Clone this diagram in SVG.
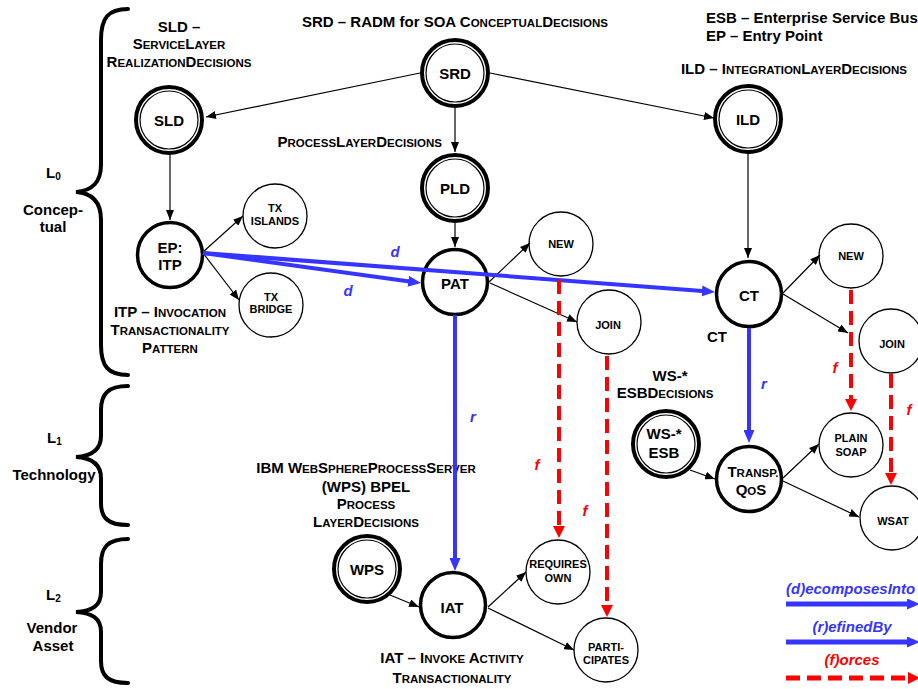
<svg xmlns="http://www.w3.org/2000/svg" width="918" height="689" viewBox="0 0 918 689">
<style>
text{font-family:"Liberation Sans",Arial,sans-serif;font-weight:bold;fill:#000}
.t{font-size:15px;text-anchor:middle}
.ts{font-size:15px;text-anchor:start}
.te{font-size:15px;text-anchor:end}
.sc{font-size:11.5px}
.n{font-size:11px;text-anchor:middle}
.big{font-size:15px;text-anchor:middle}
.dbl{fill:#fff;stroke:#000;stroke-width:4}
.inn{fill:none;stroke:#000;stroke-width:1.2}
.thk{fill:#fff;stroke:#000;stroke-width:3.5}
.thn{fill:#fff;stroke:#000;stroke-width:1.3}
.brace{fill:none;stroke:#000;stroke-width:4;stroke-linecap:round}
.e{fill:none;stroke:#000;stroke-width:1.2;marker-end:url(#ah)}
.b{fill:none;stroke:#3535ff;stroke-width:4;marker-end:url(#ab)}
.r{fill:none;stroke:#ff0000;stroke-width:4;stroke-dasharray:14 7;marker-end:url(#ar)}
.bl{fill:#3535ff;font-style:italic;font-size:15px;text-anchor:middle}
.rl{fill:#ff0000;font-style:italic;font-size:15px;text-anchor:middle}
</style>
<defs>
<marker id="ah" markerUnits="userSpaceOnUse" markerWidth="10" markerHeight="8" refX="10" refY="4" orient="auto"><path d="M0,0 L10,4 L0,8 z" fill="#000"/></marker>
<marker id="ab" markerUnits="userSpaceOnUse" markerWidth="13" markerHeight="11" refX="7" refY="5.5" orient="auto"><path d="M0,0 L13,5.5 L0,11 z" fill="#3535ff"/></marker>
<marker id="ar" markerUnits="userSpaceOnUse" markerWidth="12" markerHeight="12" refX="6" refY="6" orient="auto"><path d="M0,0 L12,6 L0,12 z" fill="#ff0000"/></marker>
</defs>
<rect width="918" height="689" fill="#fff"/>

<g id="braces">
<path class="brace" d="M128,9 C108,9 101,18 101,40 L101,165 C101,182 92,191 76,192 C92,193 101,202 101,220 L101,345 C101,366 108,375 128,375"/>
<path class="brace" d="M128,386 C108,386 101,394 101,410 L101,436 C101,450 92,456 76,457 C92,458 101,464 101,478 L101,503 C101,518 108,525 128,525"/>
<path class="brace" d="M128,539 C108,539 101,547 101,564 L101,592 C101,606 92,611 76,612 C92,613 101,618 101,632 L101,661 C101,676 108,683 128,683"/>
</g>

<g id="layer-labels">
<text class="ts" x="46" y="178">L<tspan font-size="10" dy="2">0</tspan></text>
<text class="t" x="53" y="215">Concep-</text>
<text class="t" x="53" y="232">tual</text>
<text class="ts" x="47" y="443">L<tspan font-size="10" dy="2">1</tspan></text>
<text class="t" x="54" y="480">Technology</text>
<text class="ts" x="46" y="600">L<tspan font-size="10" dy="2">2</tspan></text>
<text class="t" x="52" y="633">Vendor</text>
<text class="t" x="53" y="651">Asset</text>
</g>

<g id="annotations">
<text class="t" x="179" y="32">SLD –</text>
<text class="t" x="179" y="49">S<tspan class="sc">ERVICE</tspan>L<tspan class="sc">AYER</tspan></text>
<text class="t" x="179" y="67">R<tspan class="sc">EALIZATION</tspan>D<tspan class="sc">ECISIONS</tspan></text>
<text class="t" x="455" y="27">SRD – RADM for SOA C<tspan class="sc">ONCEPTUAL</tspan>D<tspan class="sc">ECISIONS</tspan></text>
<text class="te" x="442" y="147">P<tspan class="sc">ROCESS</tspan>L<tspan class="sc">AYER</tspan>D<tspan class="sc">ECISIONS</tspan></text>
<text class="ts" x="706" y="23">ESB – Enterprise Service Bus</text>
<text class="ts" x="706" y="41">EP – Entry Point</text>
<text class="t" x="794" y="74">ILD – I<tspan class="sc">NTEGRATION</tspan>L<tspan class="sc">AYER</tspan>D<tspan class="sc">ECISIONS</tspan></text>
<text class="t" x="170" y="317">ITP – I<tspan class="sc">NVOCATION</tspan></text>
<text class="t" x="170" y="335">T<tspan class="sc">RANSACTIONALITY</tspan></text>
<text class="t" x="170" y="353">P<tspan class="sc">ATTERN</tspan></text>
<text class="t" x="717" y="342">CT</text>
<text class="t" x="670" y="381">WS-*</text>
<text class="t" x="665" y="398">ESBD<tspan class="sc">ECISIONS</tspan></text>
<text class="t" x="366" y="473">IBM W<tspan class="sc">EB</tspan>S<tspan class="sc">PHERE</tspan>P<tspan class="sc">ROCESS</tspan>S<tspan class="sc">ERVER</tspan></text>
<text class="t" x="366" y="492">(WPS) BPEL</text>
<text class="t" x="366" y="509">P<tspan class="sc">ROCESS</tspan></text>
<text class="t" x="366" y="527">L<tspan class="sc">AYER</tspan>D<tspan class="sc">ECISIONS</tspan></text>
<text class="t" x="452" y="663">IAT – I<tspan class="sc">NVOKE</tspan> A<tspan class="sc">CTIVITY</tspan></text>
<text class="t" x="452" y="683">T<tspan class="sc">RANSACTIONALITY</tspan></text>
</g>

<g id="node-SRD"><circle class="dbl" cx="455" cy="73" r="33"/><circle class="inn" cx="455" cy="73" r="29"/><text class="big" x="455" y="79">SRD</text></g>
<g id="node-SLD"><circle class="dbl" cx="169" cy="120" r="33"/><circle class="inn" cx="169" cy="120" r="29"/><text class="big" x="169" y="126">SLD</text></g>
<g id="node-PLD"><circle class="dbl" cx="455" cy="188" r="33"/><circle class="inn" cx="455" cy="188" r="29"/><text class="big" x="455" y="194">PLD</text></g>
<g id="node-ILD"><circle class="dbl" cx="748" cy="119" r="33"/><circle class="inn" cx="748" cy="119" r="29"/><text class="big" x="748" y="125">ILD</text></g>
<g id="node-EPITP"><circle class="thk" cx="170" cy="255" r="32.5"/><text class="big" x="170" y="253">EP:</text><text class="big" x="170" y="270">ITP</text></g>
<g id="node-TXISLANDS"><circle class="thn" cx="275" cy="216" r="32"/><text class="n" x="275" y="212">TX</text><text class="n" x="275" y="225">ISLANDS</text></g>
<g id="node-TXBRIDGE"><circle class="thn" cx="271" cy="305" r="32"/><text class="n" x="271" y="301">TX</text><text class="n" x="271" y="313">BRIDGE</text></g>
<g id="node-PAT"><circle class="thk" cx="455" cy="282" r="32.5"/><text class="big" x="455" y="289">PAT</text></g>
<g id="node-NEW1"><circle class="thn" cx="561" cy="244" r="32"/><text class="n" x="561" y="248">NEW</text></g>
<g id="node-JOIN1"><circle class="thn" cx="609" cy="322" r="32"/><text class="n" x="608" y="329">JOIN</text></g>
<g id="node-CT"><circle class="thk" cx="749" cy="294" r="32.5"/><text class="big" x="749" y="301">CT</text></g>
<g id="node-NEW2"><circle class="thn" cx="851" cy="256" r="32"/><text class="n" x="851" y="260">NEW</text></g>
<g id="node-JOIN2"><circle class="thn" cx="891" cy="341" r="32"/><text class="n" x="892" y="348">JOIN</text></g>
<g id="node-WSESB"><circle class="dbl" cx="666" cy="444" r="33"/><circle class="inn" cx="666" cy="444" r="29"/><text class="big" x="664" y="439">WS-*</text><text class="big" x="664" y="458">ESB</text></g>
<g id="node-TRANSPQOS"><circle class="thk" cx="749" cy="479" r="32.5"/><text class="big" x="753" y="477">T<tspan class="sc">RANSP.</tspan></text><text class="big" x="751" y="495">Q<tspan class="sc">O</tspan>S</text></g>
<g id="node-PLAINSOAP"><circle class="thn" cx="851" cy="445" r="32"/><text class="n" x="851" y="442">PLAIN</text><text class="n" x="851" y="456">SOAP</text></g>
<g id="node-WSAT"><circle class="thn" cx="892" cy="518" r="32"/><text class="n" x="893" y="525">WSAT</text></g>
<g id="node-WPS"><circle class="dbl" cx="367" cy="569" r="33"/><circle class="inn" cx="367" cy="569" r="29"/><text class="big" x="367" y="575">WPS</text></g>
<g id="node-IAT"><circle class="thk" cx="453" cy="605" r="32.5"/><text class="big" x="452" y="613">IAT</text></g>
<g id="node-REQUIRESOWN"><circle class="thn" cx="558" cy="572" r="32"/><text class="n" x="558" y="568">REQUIRES</text><text class="n" x="558" y="582">OWN</text></g>
<g id="node-PARTICIPATES"><circle class="thn" cx="606" cy="650" r="32"/><text class="n" x="606" y="651">PARTI-</text><text class="n" x="606" y="664">CIPATES</text></g>

<g id="connectors">
<path class="e" d="M420,73 L206,117"/>
<path class="e" d="M490,73 L714,118"/>
<path class="e" d="M455,108 L455,152"/>
<path class="e" d="M170,153 L170,220"/>
<path class="e" d="M748,153 L748,258"/>
<path class="e" d="M455,221 L455,247"/>
<path class="e" d="M203,252 L243,216"/>
<path class="e" d="M203,253 L239,300"/>
<path class="e" d="M489,282 L530,243"/>
<path class="e" d="M490,283 L577,322"/>
<path class="e" d="M783,293 L820,255"/>
<path class="e" d="M783,294 L848,333"/>
<path class="e" d="M690,470 L715,479"/>
<path class="e" d="M783,478 L819,444"/>
<path class="e" d="M783,481 L859,517"/>
<path class="e" d="M390,595 L419,607"/>
<path class="e" d="M488,607 L526,572"/>
<path class="e" d="M488,608 L574,650"/>
<path class="b" d="M203,253 L415.1,282.2"/>
<path class="b" d="M203,253 L709,291.5"/>
<path class="b" d="M455,315 L455,565"/>
<path class="b" d="M749,328 L749,437"/>
<path class="r" d="M559,280 L559,532"/>
<path class="r" d="M607,356 L607,611"/>
<path class="r" d="M851,290 L851,405"/>
<path class="r" d="M891,374 L891,479"/>
<text class="bl" x="395" y="257">d</text>
<text class="bl" x="348" y="296">d</text>
<text class="bl" x="473" y="422">r</text>
<text class="bl" x="764" y="389">r</text>
<text class="rl" x="537" y="470">f</text>
<text class="rl" x="585" y="516">f</text>
<text class="rl" x="835" y="373">f</text>
<text class="rl" x="909" y="415">f</text>
</g>

<g id="legend">
<text class="bl" x="786" y="594" style="text-anchor:start">(d)ecomposesInto</text>
<path d="M786,604 L914,604" fill="none" stroke="#3535ff" stroke-width="5" marker-end="url(#ab)"/>
<text class="bl" x="852" y="632">(r)efinedBy</text>
<path d="M786,642 L914,642" fill="none" stroke="#3535ff" stroke-width="5" marker-end="url(#ab)"/>
<text class="rl" x="852" y="665">(f)orces</text>
<path d="M786,678 L914,678" fill="none" stroke="#ff0000" stroke-width="5" stroke-dasharray="14 7" marker-end="url(#ar)"/>
</g>
</svg>
